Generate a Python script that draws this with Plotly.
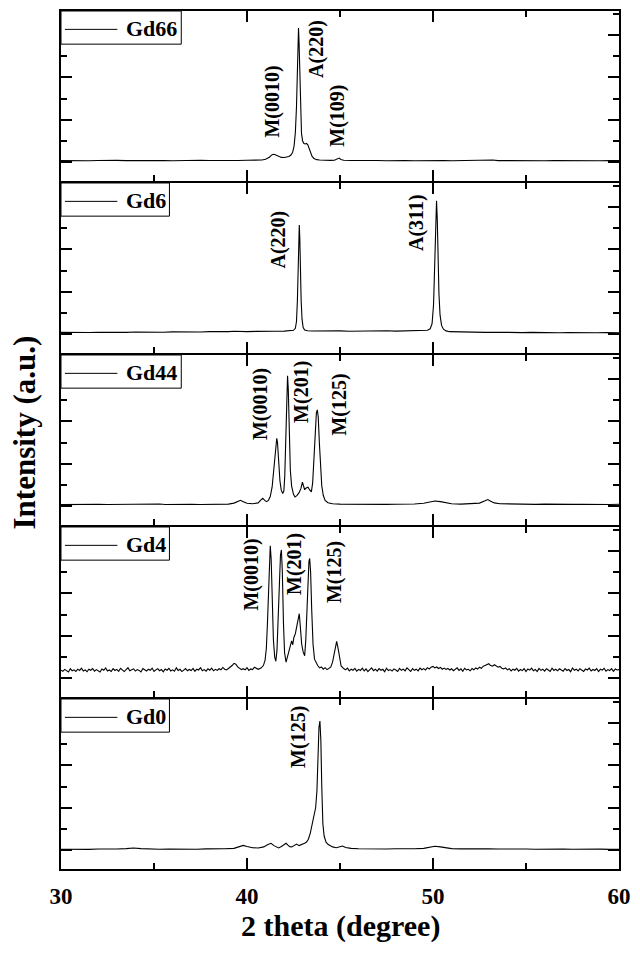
import plotly.graph_objects as go
from plotly.subplots import make_subplots

FONT = "Liberation Serif, Times New Roman, Times, serif"

# Sample names, top panel to bottom panel
SAMPLES = ["Gd66", "Gd6", "Gd44", "Gd4", "Gd0"]

# XRD scans: (2 theta in degree, intensity in a.u.)
GD66 = [
    (30.0, 40), (30.5, 36), (31.0, 44), (31.5, 38), (32.0, 42), (32.5, 35), (33.0, 45), (33.5, 39),
    (34.0, 43), (34.5, 37), (35.0, 46), (35.5, 40), (36.0, 36), (36.5, 44), (37.0, 39), (37.5, 47),
    (38.0, 41), (38.5, 38), (39.0, 45), (39.5, 42), (40.0, 48), (40.4, 45), (40.8, 55), (41.0, 70),
    (41.2, 120), (41.35, 180), (41.45, 190), (41.55, 170), (41.7, 135), (41.85, 115), (42.0, 112),
    (42.13, 118), (42.25, 135), (42.35, 165), (42.45, 230), (42.53, 380), (42.6, 700), (42.66, 1300),
    (42.7, 2100), (42.74, 2850), (42.77, 3160), (42.8, 2800), (42.84, 1900), (42.88, 1100),
    (42.93, 680), (42.99, 500), (43.06, 440), (43.14, 430), (43.2, 445), (43.27, 410), (43.34, 330),
    (43.42, 220), (43.5, 140), (43.6, 90), (43.75, 62), (43.9, 55), (44.1, 48), (44.3, 52),
    (44.5, 45), (44.7, 50), (44.85, 70), (44.95, 100), (45.05, 65), (45.2, 48), (45.6, 42),
    (46.0, 46), (46.5, 38), (47.0, 43), (47.5, 37), (48.0, 44), (48.5, 40), (49.0, 36), (49.5, 42),
    (50.0, 48), (50.3, 52), (50.6, 44), (51.0, 38), (51.5, 43), (52.0, 36), (52.5, 42), (53.0, 62),
    (53.2, 55), (53.5, 40), (54.0, 37), (54.5, 43), (55.0, 38), (55.5, 41), (56.0, 35), (56.5, 42),
    (57.0, 38), (57.5, 44), (58.0, 36), (58.5, 41), (59.0, 37), (59.5, 43), (60.0, 39),
]

GD6 = [
    (30.0, 45), (30.5, 40), (31.0, 48), (31.5, 42), (32.0, 50), (32.5, 44), (33.0, 52), (33.5, 46),
    (34.0, 55), (34.5, 48), (35.0, 53), (35.5, 50), (36.0, 58), (36.5, 52), (37.0, 60), (37.5, 55),
    (38.0, 62), (38.5, 57), (39.0, 64), (39.3, 72), (39.6, 66), (40.0, 62), (40.5, 68), (41.0, 64),
    (41.5, 72), (42.0, 75), (42.3, 80), (42.5, 95), (42.6, 140), (42.66, 300), (42.71, 800),
    (42.75, 1600), (42.78, 2200), (42.81, 2570), (42.84, 2250), (42.87, 1500), (42.91, 800),
    (42.96, 350), (43.02, 160), (43.1, 100), (43.25, 82), (43.5, 78), (44.0, 82), (44.5, 75),
    (45.0, 80), (45.5, 72), (46.0, 78), (46.5, 85), (47.0, 76), (47.5, 82), (48.0, 74), (48.5, 80),
    (49.0, 76), (49.4, 82), (49.7, 95), (49.85, 130), (49.95, 250), (50.03, 700), (50.09, 1500),
    (50.14, 2500), (50.19, 3140), (50.23, 2700), (50.27, 1800), (50.32, 950), (50.38, 450),
    (50.46, 210), (50.56, 120), (50.7, 80), (50.9, 62), (51.3, 55), (51.8, 48), (52.3, 52),
    (52.8, 45), (53.3, 50), (53.8, 42), (54.3, 47), (54.8, 40), (55.3, 46), (55.8, 38), (56.3, 44),
    (56.8, 37), (57.3, 42), (57.8, 36), (58.3, 41), (58.8, 35), (59.3, 40), (60.0, 36),
]

GD44 = [
    (30.0, 40), (30.5, 46), (31.0, 38), (31.5, 44), (32.0, 50), (32.5, 42), (33.0, 47), (33.5, 40),
    (34.0, 45), (34.5, 52), (35.0, 60), (35.3, 55), (35.6, 44), (36.0, 48), (36.5, 41), (37.0, 46),
    (37.5, 43), (38.0, 50), (38.5, 45), (39.0, 52), (39.3, 75), (39.5, 120), (39.65, 140),
    (39.8, 110), (40.0, 70), (40.3, 60), (40.6, 80), (40.75, 150), (40.85, 190), (40.95, 140),
    (41.05, 110), (41.15, 140), (41.25, 230), (41.35, 450), (41.43, 850), (41.5, 1250),
    (41.56, 1550), (41.6, 1600), (41.64, 1500), (41.7, 1050), (41.77, 600), (41.84, 380),
    (41.92, 300), (41.98, 360), (42.03, 700), (42.08, 1500), (42.13, 2500), (42.18, 3070),
    (42.22, 2750), (42.27, 1700), (42.33, 850), (42.4, 470), (42.5, 280), (42.58, 220), (42.68, 250),
    (42.8, 320), (42.9, 420), (42.98, 570), (43.04, 450), (43.1, 390), (43.18, 430), (43.28, 450),
    (43.36, 390), (43.46, 340), (43.53, 550), (43.6, 1100), (43.67, 1750), (43.73, 2200),
    (43.78, 2270), (43.83, 2100), (43.89, 1500), (43.95, 900), (44.02, 480), (44.1, 260),
    (44.2, 140), (44.35, 85), (44.6, 60), (45.0, 52), (45.5, 48), (46.0, 55), (46.5, 47), (47.0, 52),
    (47.5, 45), (48.0, 50), (48.5, 46), (49.0, 55), (49.5, 70), (49.8, 100), (50.1, 125),
    (50.4, 110), (50.7, 80), (51.0, 60), (51.5, 52), (52.0, 58), (52.5, 75), (52.8, 130),
    (52.95, 160), (53.1, 120), (53.3, 80), (53.6, 60), (54.0, 55), (54.5, 48), (55.0, 53),
    (55.5, 46), (56.0, 51), (56.5, 44), (57.0, 50), (57.5, 45), (58.0, 49), (58.5, 43), (59.0, 48),
    (59.5, 44), (60.0, 47),
]

GD4 = [
    (30.0, 190), (30.1, 165), (30.2, 210), (30.3, 182), (30.4, 150), (30.5, 225), (30.6, 178), (30.7, 200), (30.8, 160), (30.9, 215),
    (31.0, 185), (31.1, 240), (31.2, 170), (31.3, 198), (31.4, 155), (31.5, 212), (31.6, 190), (31.7, 230), (31.8, 168), (31.9, 205),
    (32.0, 175), (32.1, 150), (32.2, 220), (32.3, 188), (32.4, 245), (32.5, 172), (32.6, 196), (32.7, 160), (32.8, 228), (32.9, 184),
    (33.0, 210), (33.1, 165), (33.2, 235), (33.3, 190), (33.4, 158), (33.5, 202), (33.6, 248), (33.7, 176), (33.8, 194), (33.9, 222),
    (34.0, 170), (34.1, 206), (34.2, 185), (34.3, 150), (34.4, 232), (34.5, 196), (34.6, 172), (34.7, 215), (34.8, 188), (34.9, 240),
    (35.0, 160), (35.1, 198), (35.2, 225), (35.3, 178), (35.4, 205), (35.5, 152), (35.6, 218), (35.7, 190), (35.8, 236), (35.9, 174),
    (36.0, 200), (36.1, 168), (36.2, 246), (36.3, 186), (36.4, 212), (36.5, 158), (36.6, 194), (36.7, 228), (36.8, 176), (36.9, 208),
    (37.0, 182), (37.1, 232), (37.2, 164), (37.3, 214), (37.4, 196), (37.5, 250), (37.6, 178), (37.7, 204), (37.8, 168), (37.9, 226),
    (38.0, 192), (38.1, 238), (38.2, 176), (38.3, 210), (38.4, 186), (38.5, 224), (38.6, 200), (38.7, 255), (38.8, 214), (38.9, 196),
    (39.0, 230), (39.1, 262), (39.2, 300), (39.3, 352), (39.4, 330), (39.5, 270), (39.6, 238), (39.7, 205), (39.8, 226), (39.9, 198),
    (40.0, 248), (40.1, 186), (40.2, 222), (40.3, 205), (40.4, 260), (40.5, 238), (40.6, 212),
    (40.75, 240), (40.88, 300), (40.97, 420), (41.04, 700), (41.1, 1300), (41.16, 2200),
    (41.21, 2900), (41.25, 3120), (41.3, 2800), (41.36, 1800), (41.42, 900), (41.49, 500),
    (41.55, 400), (41.61, 650), (41.67, 1400), (41.73, 2300), (41.8, 2900), (41.85, 3020),
    (41.9, 2500), (41.96, 1300), (42.02, 600), (42.1, 380), (42.18, 520), (42.26, 700),
    (42.34, 820), (42.4, 880), (42.46, 790), (42.52, 960), (42.6, 1050), (42.68, 1250),
    (42.75, 1450), (42.81, 1520), (42.87, 1200), (42.94, 800), (43.02, 620), (43.1, 530),
    (43.16, 900), (43.22, 1700), (43.28, 2400), (43.33, 2750), (43.37, 2820), (43.42, 2500),
    (43.48, 1600), (43.55, 800), (43.63, 450), (43.73, 350), (43.8, 300), (43.9, 245), (44.0, 268),
    (44.1, 215), (44.2, 250), (44.3, 205), (44.4, 238), (44.5, 262), (44.6, 380), (44.68, 560),
    (44.75, 760), (44.82, 870), (44.9, 700), (44.98, 430), (45.06, 290),
    (45.2, 230), (45.3, 198), (45.4, 240), (45.5, 176), (45.6, 215), (45.7, 188), (45.8, 232), (45.9, 166),
    (46.0, 210), (46.1, 184), (46.2, 236), (46.3, 172), (46.4, 220), (46.5, 158), (46.6, 204), (46.7, 246), (46.8, 180), (46.9, 214),
    (47.0, 168), (47.1, 228), (47.2, 190), (47.3, 212), (47.4, 156), (47.5, 238), (47.6, 184), (47.7, 206), (47.8, 170), (47.9, 222),
    (48.0, 196), (48.1, 162), (48.2, 234), (48.3, 188), (48.4, 216), (48.5, 174), (48.6, 244), (48.7, 194), (48.8, 160), (48.9, 226),
    (49.0, 188), (49.1, 214), (49.2, 176), (49.3, 240), (49.4, 202), (49.5, 228), (49.6, 196), (49.7, 250), (49.8, 218), (49.9, 262),
    (50.0, 280), (50.1, 244), (50.2, 266), (50.3, 230), (50.4, 258), (50.5, 214), (50.6, 240), (50.7, 208), (50.8, 232), (50.9, 196),
    (51.0, 224), (51.1, 178), (51.2, 210), (51.3, 246), (51.4, 186), (51.5, 222), (51.6, 164), (51.7, 236), (51.8, 198), (51.9, 212),
    (52.0, 176), (52.1, 230), (52.2, 200), (52.3, 244), (52.4, 218), (52.5, 262), (52.6, 236), (52.7, 284), (52.8, 300), (52.9, 326),
    (53.0, 342), (53.1, 300), (53.2, 286), (53.3, 318), (53.4, 296), (53.5, 262), (53.6, 280), (53.7, 238), (53.8, 222), (53.9, 246),
    (54.0, 198), (54.1, 226), (54.2, 174), (54.3, 214), (54.4, 190), (54.5, 236), (54.6, 168), (54.7, 206), (54.8, 180), (54.9, 228),
    (55.0, 160), (55.1, 218), (55.2, 192), (55.3, 240), (55.4, 176), (55.5, 208), (55.6, 158), (55.7, 232), (55.8, 186), (55.9, 214),
    (56.0, 170), (56.1, 226), (56.2, 196), (56.3, 160), (56.4, 236), (56.5, 184), (56.6, 212), (56.7, 176), (56.8, 224), (56.9, 192),
    (57.0, 168), (57.1, 230), (57.2, 184), (57.3, 206), (57.4, 156), (57.5, 244), (57.6, 190), (57.7, 214), (57.8, 174), (57.9, 226),
    (58.0, 188), (58.1, 162), (58.2, 220), (58.3, 196), (58.4, 238), (58.5, 172), (58.6, 208), (58.7, 184), (58.8, 230), (58.9, 158),
    (59.0, 214), (59.1, 192), (59.2, 236), (59.3, 170), (59.4, 204), (59.5, 182), (59.6, 226), (59.7, 164), (59.8, 218), (59.9, 196),
    (60.0, 205),
]

GD0 = [
    (30.0, 25), (30.5, 20), (31.0, 28), (31.5, 22), (32.0, 30), (32.5, 24), (33.0, 32), (33.5, 40),
    (33.9, 55), (34.3, 40), (34.8, 30), (35.3, 26), (35.8, 32), (36.3, 25), (36.8, 30), (37.3, 24),
    (37.8, 33), (38.3, 28), (38.8, 35), (39.3, 45), (39.6, 80), (39.8, 115), (40.0, 90), (40.3, 60),
    (40.6, 55), (40.9, 80), (41.1, 130), (41.29, 165), (41.45, 110), (41.6, 70), (41.7, 55),
    (41.85, 90), (42.0, 140), (42.1, 165), (42.2, 120), (42.3, 85), (42.4, 80), (42.55, 120),
    (42.67, 145), (42.8, 110), (42.92, 125), (43.02, 145), (43.1, 165), (43.2, 195), (43.3, 260),
    (43.4, 400), (43.51, 620), (43.6, 800), (43.69, 1000), (43.76, 1400), (43.82, 2300),
    (43.87, 2900), (43.92, 3040), (43.97, 2600), (44.02, 1500), (44.08, 620), (44.15, 330),
    (44.25, 190), (44.35, 140), (44.45, 115), (44.6, 80), (44.8, 60), (45.0, 75), (45.14, 100),
    (45.3, 65), (45.6, 45), (46.0, 38), (46.5, 32), (47.0, 36), (47.5, 30), (48.0, 35), (48.5, 32),
    (49.0, 38), (49.5, 45), (49.8, 70), (50.1, 95), (50.4, 80), (50.7, 55), (51.0, 40), (51.5, 34),
    (52.0, 38), (52.5, 30), (53.0, 36), (53.5, 29), (54.0, 33), (54.5, 27), (55.0, 32), (55.5, 26),
    (56.0, 31), (56.5, 25), (57.0, 30), (57.5, 24), (58.0, 29), (58.5, 23), (59.0, 28), (59.5, 22),
    (60.0, 26),
]

SCANS = [GD66, GD6, GD44, GD4, GD0]

# Reflection labels per panel: (text, 2 theta, intensity)
GD66_LABELS = [("M(0010)", 41.38, 1420), ("A(220)", 43.77, 2670), ("M(109)", 44.88, 1090)]
GD6_LABELS = [("A(220)", 41.69, 2240), ("A(311)", 49.11, 2630)]
GD44_LABELS = [("M(0010)", 40.76, 2410), ("M(201)", 42.93, 2680), ("M(125)", 44.96, 2400)]
GD4_LABELS = [("M(0010)", 40.19, 2430), ("M(201)", 42.58, 2690), ("M(125)", 44.70, 2510)]
GD0_LABELS = [("M(125)", 42.80, 2670)]
LABELS = [GD66_LABELS, GD6_LABELS, GD44_LABELS, GD4_LABELS, GD0_LABELS]

X_RANGE = [30, 60]
X_TICKS = [30, 40, 50, 60]
Y_RANGE = [-440, 3560]

N = len(SAMPLES)
# a 2 px gap lets the frame lines of neighbouring panels fall on top of each other
fig = make_subplots(rows=N, cols=1, shared_xaxes=True, vertical_spacing=2 / 860)

bold = dict(family=FONT, color="black", weight="bold")

for i, (name, scan, labels) in enumerate(zip(SAMPLES, SCANS, LABELS), start=1):
    tt = [p[0] for p in scan]
    inten = [p[1] for p in scan]
    fig.add_trace(
        go.Scatter(x=tt, y=inten, mode="lines", name=name,
                   line=dict(color="black", width=1.1), showlegend=False),
        row=i, col=1,
    )
    sfx = "" if i == 1 else str(i)
    xd, yd = f"x{sfx} domain", f"y{sfx} domain"
    # legend box with line sample and sample name
    box_w = (74 + 12 * len(name)) / 566
    fig.add_shape(type="rect", xref=xd, yref=yd, x0=0, x1=box_w, y0=0.805, y1=1.0,
                  line=dict(color="black", width=1), fillcolor="white", layer="above")
    fig.add_shape(type="line", xref=xd, yref=yd, x0=0.007, x1=0.101, y0=0.892, y1=0.892,
                  line=dict(color="black", width=1))
    fig.add_annotation(xref=xd, yref=yd, x=0.113, y=0.895, text=name, showarrow=False,
                       xanchor="left", yanchor="middle", font=dict(size=22, **bold))
    for text, lx, ly in labels:
        fig.add_annotation(x=lx, y=ly, xref=f"x{sfx}", yref=f"y{sfx}", text=text,
                           showarrow=False, textangle=-90, xanchor="center",
                           yanchor="middle", font=dict(size=20, **bold))

axis_common = dict(showline=True, linecolor="black", linewidth=2, mirror="ticks",
                   showgrid=False, zeroline=False, ticks="inside", tickcolor="black",
                   tickwidth=2, ticklen=11)

fig.update_xaxes(range=X_RANGE, tickvals=X_TICKS, ticktext=[str(v) for v in X_TICKS],
                 tickfont=dict(size=23, **bold), ticklabelstandoff=5,
                 minor=dict(dtick=5, tick0=30, ticks="inside", ticklen=6, tickwidth=2,
                            tickcolor="black", showgrid=False),
                 **axis_common)
fig.update_yaxes(range=Y_RANGE, dtick=1000, tick0=0, showticklabels=False,
                 minor=dict(dtick=500, tick0=0, ticks="inside", ticklen=6, tickwidth=2,
                            tickcolor="black", showgrid=False),
                 **axis_common)

fig.add_annotation(xref="paper", yref="paper", x=0.5, y=-0.0665, text="2 theta (degree)",
                   showarrow=False, xanchor="center", yanchor="middle",
                   font=dict(size=30, **bold))
fig.add_annotation(xref="paper", yref="paper", x=-0.066, y=0.509, text="Intensity (a.u.)",
                   showarrow=False, textangle=-90, xanchor="center", yanchor="middle",
                   font=dict(size=31, **bold))

fig.update_layout(width=640, height=958, margin=dict(l=61, r=13, t=9, b=89),
                  paper_bgcolor="white", plot_bgcolor="white", showlegend=False)

fig.write_html("out.html")
